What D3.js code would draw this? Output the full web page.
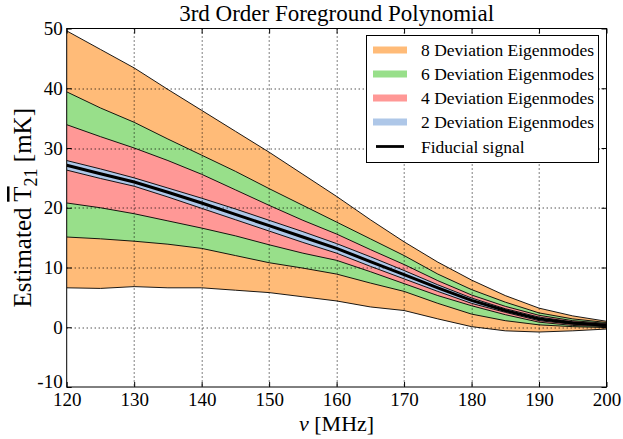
<!DOCTYPE html>
<html>
<head>
<meta charset="utf-8">
<script src="https://cdn.jsdelivr.net/npm/d3@7"></script>
<style>
  body { margin: 0; background: #fff; }
  svg text { font-family: "Liberation Serif", "DejaVu Serif", serif; fill: #000; }
</style>
</head>
<body>
<svg id="chart" width="623" height="439"></svg>
<script>
// frequencies in MHz
var freq = [120, 125, 130, 135, 140, 145, 150, 155, 160, 165, 170, 175, 180, 185, 190, 195, 200];

// band edges, mK
var up8 = [49.6, 46.5, 43.4, 39.8, 36.3, 32.8, 29.3, 25.6, 21.9, 18.0, 14.3, 10.9, 7.9, 5.3, 3.2, 1.9, 1.0];
var lo8 = [6.6, 6.5, 6.8, 6.6, 6.6, 6.2, 5.8, 5.1, 4.4, 3.4, 2.8, 1.4, 0.1, -0.6, -0.8, -0.6, -0.3];
var up6 = [39.4, 36.7, 34.3, 31.5, 28.8, 26.1, 23.2, 20.4, 17.6, 14.8, 12.0, 8.9, 6.3, 4.2, 2.4, 1.4, 0.8];
var lo6 = [15.1, 14.8, 14.4, 13.9, 13.2, 12.0, 10.8, 9.9, 8.9, 7.4, 6.0, 4.0, 2.2, 1.1, 0.4, 0.1, -0.05];
var up4 = [33.9, 31.9, 30.0, 27.9, 25.6, 23.0, 20.4, 17.9, 15.6, 13.0, 10.5, 7.8, 5.4, 3.5, 2.0, 1.1, 0.65];
var lo4 = [20.8, 20.0, 19.0, 17.8, 16.6, 15.3, 13.8, 12.4, 11.2, 9.3, 7.3, 5.3, 3.6, 2.1, 0.85, 0.3, 0.1];
var up2 = [27.9, 26.5, 25.0, 23.3, 21.6, 19.8, 17.9, 16.0, 14.0, 11.8, 9.5, 7.1, 4.9, 3.1, 1.7, 0.9, 0.5];
var lo2 = [26.3, 24.9, 23.6, 21.8, 19.9, 18.0, 16.1, 14.2, 12.4, 10.2, 8.1, 6.0, 4.0, 2.5, 1.1, 0.5, 0.2];
var fiducial = [27.1, 25.7, 24.3, 22.6, 20.8, 18.9, 17.0, 15.1, 13.2, 11.0, 8.8, 6.6, 4.5, 2.8, 1.4, 0.7, 0.35];

var xTicks = [120, 130, 140, 150, 160, 170, 180, 190, 200];
var yTicks = [-10, 0, 10, 20, 30, 40, 50];

var bands = [
  {name: "8 Deviation Eigenmodes", up: up8, lo: lo8, color: "#ffbb78"},
  {name: "6 Deviation Eigenmodes", up: up6, lo: lo6, color: "#98df8a"},
  {name: "4 Deviation Eigenmodes", up: up4, lo: lo4, color: "#ff9896"},
  {name: "2 Deviation Eigenmodes", up: up2, lo: lo2, color: "#aec7e8"}
];

var margin = {top: 28.5, right: 16.5, bottom: 52, left: 66.7};
var width = 623 - margin.left - margin.right;
var height = 439 - margin.top - margin.bottom;

var svg = d3.select("#chart");
var g = svg.append("g").attr("transform", "translate(" + margin.left + "," + margin.top + ")");

var x = d3.scaleLinear().domain([120, 200]).range([0, width]);
var y = d3.scaleLinear().domain([-10, 50]).range([height, 0]);

g.append("clipPath").attr("id", "clip")
  .append("rect").attr("width", width).attr("height", height);
var plot = g.append("g").attr("clip-path", "url(#clip)");

bands.forEach(function(b) {
  var area = d3.area()
    .x(function(d, i) { return x(freq[i]); })
    .y0(function(d, i) { return y(b.lo[i]); })
    .y1(function(d, i) { return y(b.up[i]); });
  plot.append("path").datum(freq).attr("d", area).attr("fill", b.color);
  [b.up, b.lo].forEach(function(vals) {
    var line = d3.line()
      .x(function(d, i) { return x(freq[i]); })
      .y(function(d) { return y(d); });
    plot.append("path").datum(vals).attr("d", line)
      .attr("fill", "none").attr("stroke", "#000").attr("stroke-width", 0.9);
  });
});

var fidLine = d3.line()
  .x(function(d, i) { return x(freq[i]); })
  .y(function(d) { return y(d); });
plot.append("path").datum(fiducial).attr("d", fidLine)
  .attr("fill", "none").attr("stroke", "#000").attr("stroke-width", 3);

// dotted grid, drawn above the fills like matplotlib classic
g.append("g").selectAll("line").data(xTicks.slice(1, -1)).enter().append("line")
  .attr("x1", function(d) { return Math.round(x(d)) + 0.5; })
  .attr("x2", function(d) { return Math.round(x(d)) + 0.5; })
  .attr("y1", 0).attr("y2", height)
  .attr("stroke", "#000").attr("stroke-width", 1).attr("stroke-dasharray", "1,3");
g.append("g").selectAll("line").data(yTicks.slice(1, -1)).enter().append("line")
  .attr("y1", function(d) { return Math.round(y(d)) + 0.5; })
  .attr("y2", function(d) { return Math.round(y(d)) + 0.5; })
  .attr("x1", 0).attr("x2", width)
  .attr("stroke", "#000").attr("stroke-width", 1).attr("stroke-dasharray", "1,3");

// axes with inward ticks on all sides
var bottomAxis = g.append("g").attr("transform", "translate(0," + height + ")")
  .call(d3.axisBottom(x).tickValues(xTicks).tickSizeInner(-5).tickSizeOuter(0).tickPadding(9));
var leftAxis = g.append("g")
  .call(d3.axisLeft(y).tickValues(yTicks).tickSizeInner(-5).tickSizeOuter(0).tickPadding(9)
    .tickFormat(function(d) { return d < 0 ? "-" + Math.abs(d) : d; }));
var topAxis = g.append("g")
  .call(d3.axisTop(x).tickValues(xTicks).tickSizeInner(-5).tickSizeOuter(0).tickFormat(""));
var rightAxis = g.append("g").attr("transform", "translate(" + width + ",0)")
  .call(d3.axisRight(y).tickValues(yTicks).tickSizeInner(-5).tickSizeOuter(0).tickFormat(""));
[bottomAxis, leftAxis, topAxis, rightAxis].forEach(function(a) {
  a.select(".domain").remove();
  a.selectAll("line").attr("stroke", "#000");
  a.selectAll("text").attr("font-size", 19).attr("font-family", "Liberation Serif");
});
leftAxis.selectAll("text").attr("x", -4);
leftAxis.selectAll("text").filter(function(d) { return d === -10; }).attr("dy", "0.05em");
bottomAxis.selectAll("text").attr("y", 6);

g.append("rect").attr("width", width).attr("height", height)
  .attr("fill", "none").attr("stroke", "#000").attr("stroke-width", 1);

// title and labels
svg.append("text").attr("x", margin.left + width / 2).attr("y", 21)
  .attr("text-anchor", "middle").attr("font-size", 23)
  .text("3rd Order Foreground Polynomial");

var xl = svg.append("text").attr("x", margin.left + width / 2).attr("y", 431)
  .attr("text-anchor", "middle").attr("font-size", 22);
xl.append("tspan").attr("font-style", "italic").text("ν");
xl.append("tspan").text(" [MHz]");

var yl = svg.append("text")
  .attr("transform", "translate(31," + (margin.top + height / 2) + ") rotate(-90)")
  .attr("text-anchor", "middle").attr("font-size", 25);
yl.append("tspan").text("Estimated ");
yl.append("tspan").style("text-decoration", "overline").text("T");
yl.append("tspan").attr("font-size", 18).attr("dy", 6).text("21");
yl.append("tspan").attr("dy", -6).text(" [mK]");

// legend
var legend = svg.append("g");
legend.append("rect").attr("x", 366.5).attr("y", 35.5).attr("width", 232).attr("height", 127)
  .attr("fill", "#fff").attr("stroke", "#000").attr("stroke-width", 1);
var rowY = [50, 74, 98, 122, 146.5];
bands.forEach(function(b, i) {
  legend.append("rect").attr("x", 373).attr("y", rowY[i] - 3.5).attr("width", 34).attr("height", 7)
    .attr("fill", b.color);
  legend.append("text").attr("x", 421).attr("y", rowY[i] + 6).attr("font-size", 17.5).text(b.name);
});
legend.append("line").attr("x1", 376).attr("x2", 404).attr("y1", rowY[4]).attr("y2", rowY[4])
  .attr("stroke", "#000").attr("stroke-width", 2.8);
legend.append("text").attr("x", 421).attr("y", rowY[4] + 6).attr("font-size", 17.5).text("Fiducial signal");
</script>
</body>
</html>
